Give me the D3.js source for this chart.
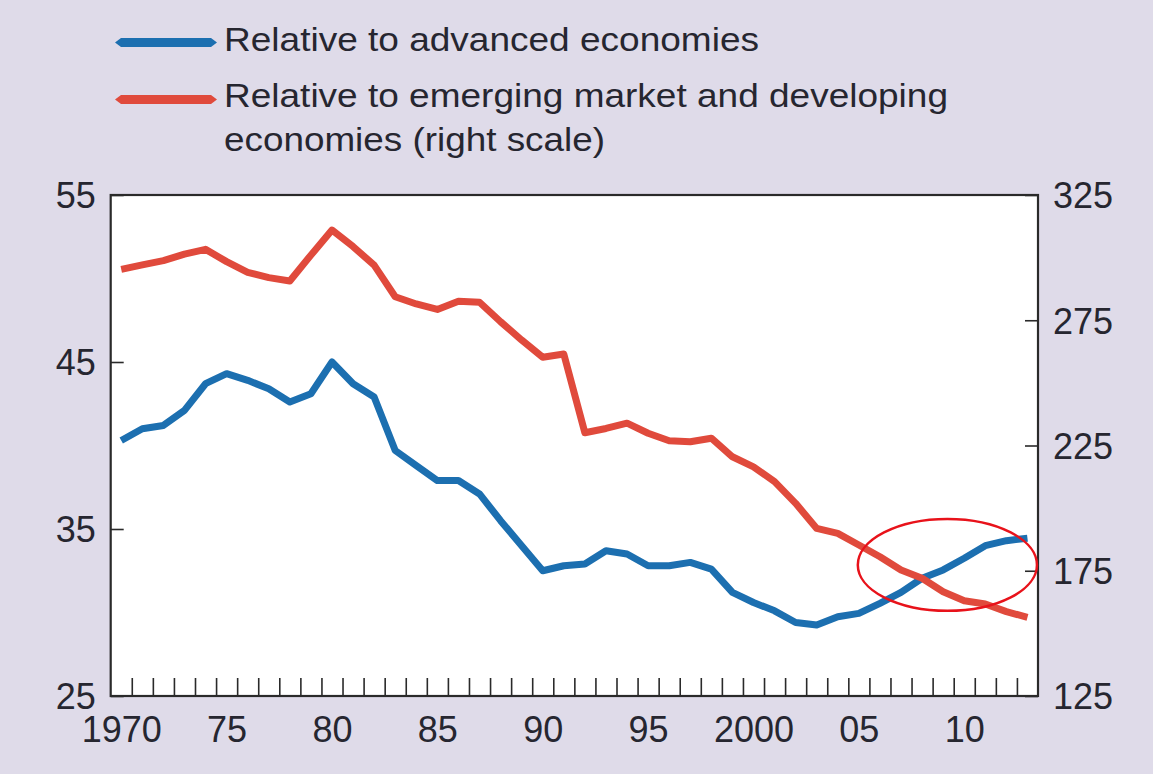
<!DOCTYPE html>
<html>
<head>
<meta charset="utf-8">
<script src="https://cdn.jsdelivr.net/npm/d3@7"></script>
<style>
  html, body { margin: 0; padding: 0; background: #dfdbe9; }
  svg { display: block; }
  text { font-family: "Liberation Sans", Arial, sans-serif; fill: #262630; }
</style>
</head>
<body>
<svg id="chart" width="1153" height="774"></svg>
<script>
// ---- Data ----
const years = d3.range(1970, 2014);
const advanced = [40.3, 41.0, 41.2, 42.1, 43.7, 44.3, 43.9, 43.4, 42.6, 43.1,
                  45.0, 43.7, 42.9, 39.7, 38.8, 37.9, 37.9, 37.1, 35.5, 34.0,
                  32.5, 32.8, 32.9, 33.7, 33.5, 32.8, 32.8, 33.0, 32.6, 31.2,
                  30.6, 30.1, 29.4, 29.25, 29.75, 29.95, 30.55, 31.2, 32.05, 32.55,
                  33.25, 34.0, 34.3, 34.45];
const emerging = [295.3, 297.1, 298.8, 301.4, 303.3, 298.4, 294.1, 292.0, 290.7, 301.0,
                  311.0, 304.4, 297.0, 284.4, 281.5, 279.3, 282.6, 282.2, 274.4, 267.1,
                  260.2, 261.5, 230.1, 231.8, 233.9, 229.9, 226.9, 226.5, 227.9, 220.5,
                  216.5, 210.6, 201.9, 191.9, 189.9, 185.3, 180.6, 175.3, 172.0, 166.6,
                  163.0, 161.7, 158.7, 156.4];
const leftTicks = [25, 35, 45, 55];
const rightTicks = [125, 175, 225, 275, 325];
const labelYears = [1970, 1975, 1980, 1985, 1990, 1995, 2000, 2005, 2010];
const labelTexts = ["1970", "75", "80", "85", "90", "95", "2000", "05", "10"];
const legendLines = ["Relative to advanced economies",
                     "Relative to emerging market and developing",
                     "economies (right scale)"];
// annotation ellipse (data units: year / left-scale value)
const ellipseCenter = [2009.2, 32.85];
const ellipseRadii = [4.25, 2.75];

// ---- Layout ----
const L = 110.7, R = 1038, T = 195, B = 696;
const blue = "#1c6fb0", red = "#e04a3c";

const svg = d3.select("#chart");
svg.append("rect").attr("width", 1153).attr("height", 774).attr("fill", "#dfdbe9");
svg.append("rect").attr("x", L).attr("y", T).attr("width", R - L).attr("height", B - T)
   .attr("fill", "#ffffff");

const x = d3.scaleLinear().domain([1969.5, 2013.5]).range([L, R]);
const yL = d3.scaleLinear().domain([25, 55]).range([B, T]);
const yR = d3.scaleLinear().domain([125, 325]).range([B, T]);

// bottom ticks (between years)
const gx = svg.append("g").attr("transform", `translate(0,${B})`)
  .call(d3.axisBottom(x).tickValues(d3.range(1970.5, 2013, 1)).tickSize(-18).tickFormat(""));
gx.select(".domain").remove();
gx.selectAll("line").attr("stroke", "#2a2a2a").attr("stroke-width", 1.6);

// bottom labels
const gxl = svg.append("g").attr("transform", `translate(0,${B})`)
  .call(d3.axisBottom(x).tickValues(labelYears).tickSize(0)
        .tickFormat((d, i) => labelTexts[i]));
gxl.select(".domain").remove();
gxl.selectAll("text").attr("font-size", 36).attr("dy", 0).attr("y", 46)
   .style("font-family", "Liberation Sans, Arial, sans-serif").attr("fill", "#262630");

// left axis
const gl = svg.append("g").attr("transform", `translate(${L},0)`)
  .call(d3.axisLeft(yL).tickValues(leftTicks).tickSize(-13).tickPadding(15));
gl.select(".domain").remove();
gl.selectAll("line").attr("stroke", "#2a2a2a").attr("stroke-width", 1.6);
gl.selectAll("text").attr("font-size", 36).attr("dy", "0.36em")
   .style("font-family", "Liberation Sans, Arial, sans-serif").attr("fill", "#262630");

// right axis
const gr = svg.append("g").attr("transform", `translate(${R},0)`)
  .call(d3.axisRight(yR).tickValues(rightTicks).tickSize(-13).tickPadding(15));
gr.select(".domain").remove();
gr.selectAll("line").attr("stroke", "#2a2a2a").attr("stroke-width", 1.6);
gr.selectAll("text").attr("font-size", 36).attr("dy", "0.36em")
   .style("font-family", "Liberation Sans, Arial, sans-serif").attr("fill", "#262630");

// lines
const lineL = d3.line().x((d, i) => x(years[i])).y(d => yL(d));
const lineR = d3.line().x((d, i) => x(years[i])).y(d => yR(d));
svg.append("path").datum(advanced).attr("d", lineL).attr("fill", "none")
   .attr("stroke", blue).attr("stroke-width", 7).attr("stroke-linejoin", "round");
svg.append("path").datum(emerging).attr("d", lineR).attr("fill", "none")
   .attr("stroke", red).attr("stroke-width", 7).attr("stroke-linejoin", "round");

// plot frame
svg.append("rect").attr("x", L).attr("y", T).attr("width", R - L).attr("height", B - T)
   .attr("fill", "none").attr("stroke", "#2a2a2a").attr("stroke-width", 2.2);

// annotation ellipse
const ex = x(ellipseCenter[0]), ey = yL(ellipseCenter[1]);
svg.append("ellipse").attr("cx", ex).attr("cy", ey)
   .attr("rx", x(ellipseCenter[0] + ellipseRadii[0]) - ex)
   .attr("ry", ey - yL(ellipseCenter[1] + ellipseRadii[1]))
   .attr("fill", "none").attr("stroke", "#e8121a").attr("stroke-width", 2.5);

// legend
function swatch(y, color) {
  const pts = [[115, y], [121, y - 4.5], [211, y - 4.5], [217, y], [211, y + 4.5], [121, y + 4.5]];
  svg.append("polygon").attr("points", pts.map(p => p.join(",")).join(" ")).attr("fill", color);
}
swatch(42.5, blue);
swatch(99.5, red);
const legendY = [51, 107, 151];
const legendW = [535, 724, 381];
legendLines.forEach((t, i) => {
  svg.append("text").attr("x", 224).attr("y", legendY[i]).attr("font-size", 34)
     .attr("textLength", legendW[i]).attr("lengthAdjust", "spacingAndGlyphs").text(t);
});
</script>
</body>
</html>
